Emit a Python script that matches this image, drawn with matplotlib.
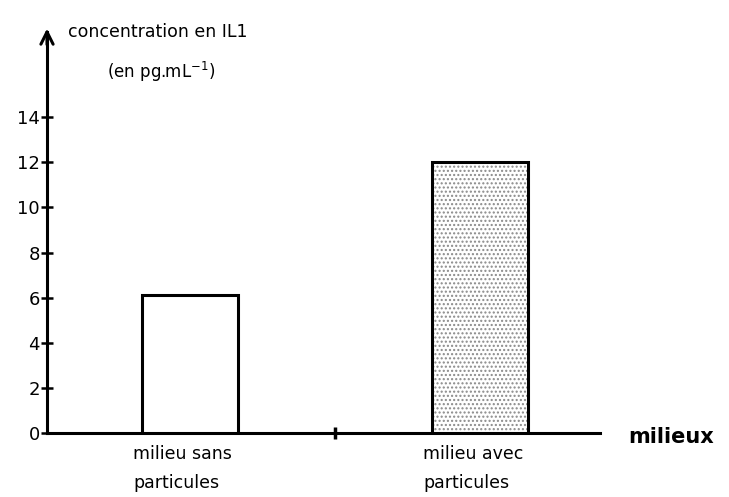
import numpy as np
import matplotlib.pyplot as plt

# donnees
categories = ["milieu sans\nparticules", "milieu avec\nparticules"]
valeurs = [6.1, 12]
yticks = [0, 2, 4, 6, 8, 10, 12, 14]

fig = plt.figure(figsize=(7.29, 4.97), dpi=100)
# axes : x=47px .. 600px, y=0 at 433px, top at 27px
ax = fig.add_axes([47 / 729, 64 / 497, (600 - 47) / 729, (433 - 27) / 497])

x = np.array([1, 2])
largeur = 0.33
ax.set_xlim(1 - 143 / 290, 1 + 410 / 290)
ax.set_ylim(0, 18)

# barre 1 : vide, barre 2 : pointillee
ax.bar(x[0], valeurs[0], largeur, facecolor="white", edgecolor="black", linewidth=2.2, zorder=3)
ax.bar(x[1], valeurs[1], largeur, facecolor="white", edgecolor="#8a8a8a", hatch="....", linewidth=0, zorder=3)
ax.bar(x[1], valeurs[1], largeur, facecolor="none", edgecolor="black", linewidth=2.2, zorder=4)

for s in ["top", "right"]:
    ax.spines[s].set_visible(False)
ax.spines["left"].set_linewidth(2.2)
ax.spines["bottom"].set_linewidth(2.2)
ax.spines["left"].set_bounds(0, 17.8)

ax.annotate("", xy=(0, 1.003), xytext=(0, 0.95), xycoords="axes fraction",
            arrowprops=dict(arrowstyle="->", lw=2.2, color="black", mutation_scale=22))

ax.set_yticks(yticks)
ax.set_yticklabels([str(t) for t in yticks], fontsize=13)
ax.tick_params(axis="y", direction="inout", length=8, width=1.8, pad=1)
ax.set_xticks([1.5])
ax.set_xticklabels([""])
ax.tick_params(axis="x", direction="inout", length=8, width=2.5)

for xi, lab in zip(x, categories):
    ax.text(xi - largeur / 2 - 0.03, -0.55, lab, ha="left", va="top", fontsize=12.5, linespacing=1.75)

fig.text(628 / 729, 1 - 437 / 497, "milieux", fontsize=15, fontweight="bold", ha="left", va="center")
fig.text(68 / 729, 1 - 32 / 497, "concentration en IL1", fontsize=12.5, ha="left", va="center")
fig.text(107 / 729, 1 - 72 / 497, r"(en pg.mL$^{-1}$)", fontsize=12, ha="left", va="center")

fig.savefig("out.png", dpi=100, facecolor="white")
